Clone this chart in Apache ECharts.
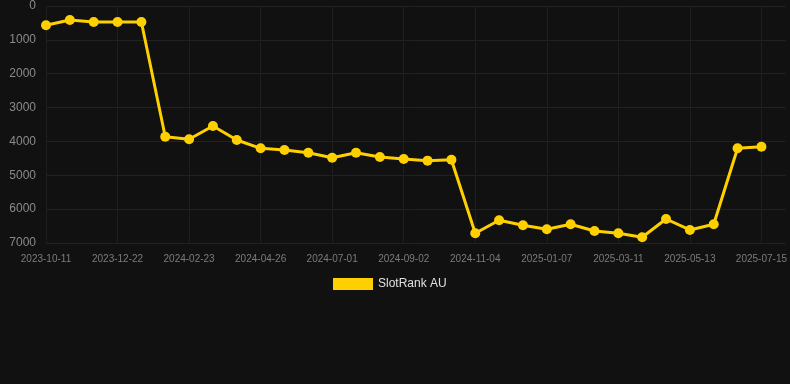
<!DOCTYPE html>
<html>
<head>
<meta charset="utf-8">
<style>
  html, body { margin: 0; padding: 0; background: #111111; }
  #chart { width: 790px; height: 384px; }
</style>
<script src="https://cdn.jsdelivr.net/npm/echarts@6/dist/echarts.min.js"></script>
</head>
<body>
<div id="chart"></div>
<script>
const dates = [
  '2023-10-11', '2023-11-01', '2023-11-22', '2023-12-22', '2024-01-12', '2024-02-02',
  '2024-02-23', '2024-03-15', '2024-04-05', '2024-04-26', '2024-05-17', '2024-06-07',
  '2024-07-01', '2024-07-22', '2024-08-12', '2024-09-02', '2024-09-23', '2024-10-14',
  '2024-11-04', '2024-11-25', '2024-12-16', '2025-01-07', '2025-01-28', '2025-02-18',
  '2025-03-11', '2025-04-01', '2025-04-22', '2025-05-13', '2025-06-03', '2025-06-24',
  '2025-07-15', '2025-08-05'
];
const slotRankAU = [
  570, 413, 472, 472, 472, 3860,
  3937, 3544, 3957, 4203, 4253, 4332,
  4480, 4332, 4460, 4519, 4568, 4539,
  6713, 6329, 6477, 6595, 6447, 6645,
  6713, 6832, 6291, 6615, 6447, 4203,
  4155, null
];
const seriesName = 'SlotRank AU';
const yMin = 0, yMax = 7000, yStep = 1000;

const chart = echarts.init(document.getElementById('chart'), null, { renderer: 'canvas' });
chart.setOption({
  backgroundColor: '#111111',
  animation: false,
  grid: { left: 46, right: 4, top: 6, bottom: 141, containLabel: false },
  legend: {
    data: [seriesName],
    left: 328,
    top: 273,
    icon: 'rect',
    itemWidth: 40,
    itemHeight: 12,
    itemGap: 10,
    textStyle: { color: '#e0e0e0', fontSize: 12, fontFamily: 'Liberation Sans, Arial, sans-serif' }
  },
  xAxis: {
    type: 'category',
    data: dates,
    boundaryGap: false,
    axisLine: { show: false },
    axisTick: { show: false },
    axisLabel: { interval: 2, color: '#7c7c7c', fontSize: 10, margin: 11, fontFamily: 'Liberation Sans, Arial, sans-serif' },
    splitLine: { show: true, interval: 2, lineStyle: { color: '#1f1f1f', width: 1 } }
  },
  yAxis: {
    type: 'value',
    inverse: true,
    min: yMin,
    max: yMax,
    interval: yStep,
    axisLine: { show: false },
    axisTick: { show: false },
    axisLabel: { color: '#8a8a8a', fontSize: 12, margin: 10, fontFamily: 'Liberation Sans, Arial, sans-serif', formatter: v => String(v) },
    splitLine: { show: true, lineStyle: { color: '#222222', width: 1 } }
  },
  series: [{
    name: seriesName,
    type: 'line',
    data: slotRankAU,
    color: '#FFD000',
    symbol: 'circle',
    symbolSize: 10,
    showAllSymbol: true,
    lineStyle: { color: '#FFD000', width: 3 },
    itemStyle: { color: '#FFD000' }
  }]
});
</script>
</body>
</html>
